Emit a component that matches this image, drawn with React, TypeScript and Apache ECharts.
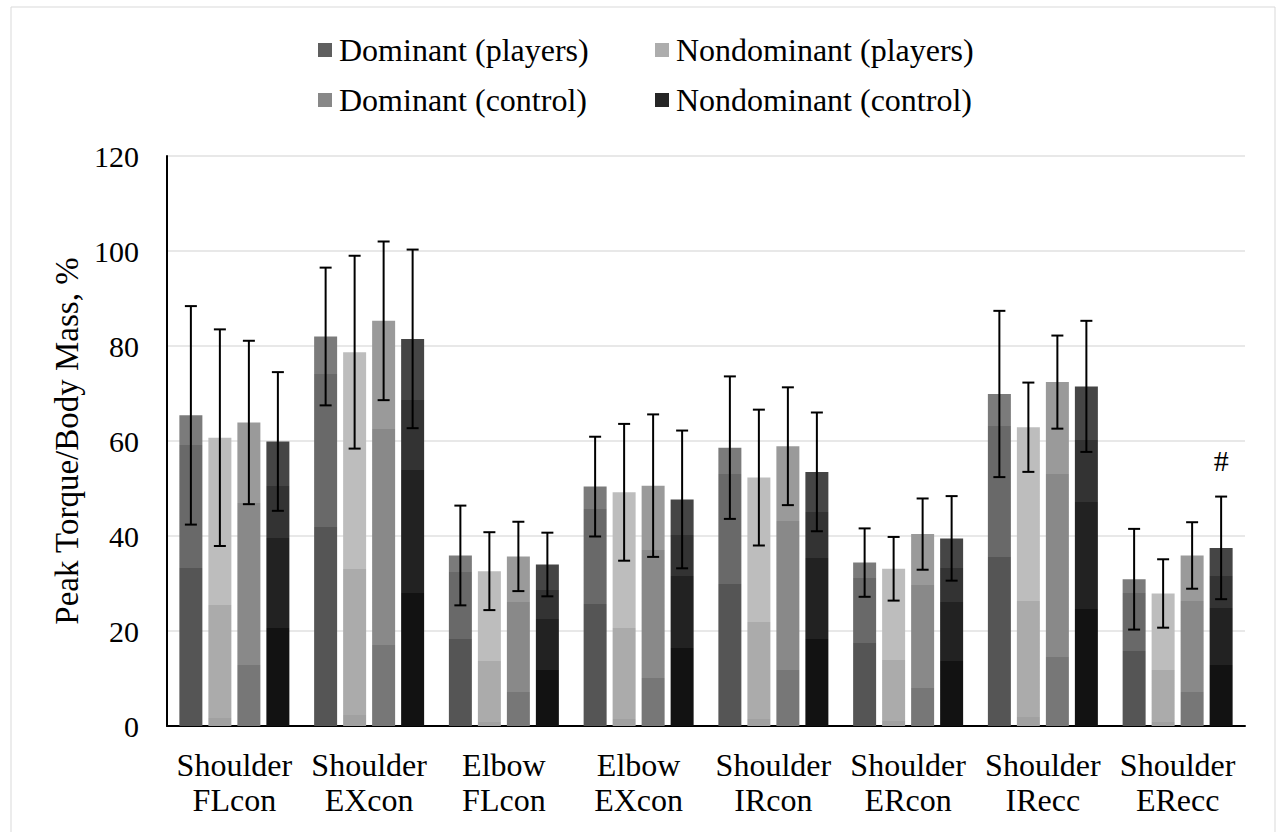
import React, { useEffect, useRef } from "react";
import * as echarts from "echarts";

const categories = [
  "Shoulder\nFLcon",
  "Shoulder\nEXcon",
  "Elbow\nFLcon",
  "Elbow\nEXcon",
  "Shoulder\nIRcon",
  "Shoulder\nERcon",
  "Shoulder\nIRecc",
  "Shoulder\nERecc",
];

const seriesNames = [
  "Dominant (players)",
  "Nondominant (players)",
  "Dominant (control)",
  "Nondominant (control)",
];

const domPlayersMean = [65.4, 82.0, 35.9, 50.4, 58.6, 34.4, 69.9, 30.9];
const domPlayersErr = [23.0, 14.5, 10.5, 10.5, 15.0, 7.2, 17.5, 10.6];
const nondomPlayersMean = [60.7, 78.7, 32.6, 49.2, 52.3, 33.1, 62.9, 27.9];
const nondomPlayersErr = [22.8, 20.3, 8.2, 14.4, 14.3, 6.7, 9.4, 7.2];
const domControlMean = [63.9, 85.3, 35.7, 50.6, 58.9, 40.4, 72.4, 35.9];
const domControlErr = [17.2, 16.7, 7.3, 15.0, 12.4, 7.5, 9.8, 7.0];
const nondomControlMean = [59.9, 81.5, 34.0, 47.7, 53.5, 39.5, 71.5, 37.5];
const nondomControlErr = [14.6, 18.8, 6.7, 14.5, 12.5, 8.9, 13.8, 10.8];
const nondomControlSig = ["", "", "", "", "", "", "", "#"];

const yTicks = { min: 0, max: 120, interval: 20 };

// style: banded fills (upper fraction of bar height from bottom, colour)
const bandStyles: [number, string][][] = [
  [[0.51, "#555555"], [0.905, "#696969"], [1, "#7b7b7b"]],
  [[0.029, "#a1a1a1"], [0.419, "#ababab"], [1, "#bdbdbd"]],
  [[0.2, "#777777"], [0.734, "#898989"], [1, "#9a9a9a"]],
  [[0.344, "#121212"], [0.661, "#222222"], [0.843, "#333333"], [1, "#454545"]],
];
const legendColors = ["#5f5f5f", "#adadad", "#888888", "#262626"];

const BAR_W = 23;
const BAR_GAP = 6;
const FONT = "Liberation Serif";

function bandGradient(bands: [number, string][]) {
  const stops: { offset: number; color: string }[] = [];
  for (let i = bands.length - 1; i >= 0; i--) {
    const upper = bands[i][0];
    const lower = i > 0 ? bands[i - 1][0] : 0;
    stops.push({ offset: 1 - upper, color: bands[i][1] });
    stops.push({ offset: 1 - lower, color: bands[i][1] });
  }
  return new echarts.graphic.LinearGradient(0, 0, 0, 1, stops);
}

export default function App() {
  const ref = useRef<HTMLDivElement>(null);

  useEffect(() => {
    if (!ref.current) return;
    const chart = echarts.init(ref.current, null, { renderer: "svg" });
    const means = [domPlayersMean, nondomPlayersMean, domControlMean, nondomControlMean];
    const errs = [domPlayersErr, nondomPlayersErr, domControlErr, nondomControlErr];
    const sigs = [null, null, null, nondomControlSig];

    const barSeries = seriesNames.map((name, k) => ({
      name,
      type: "bar",
      data: means[k],
      barWidth: BAR_W,
      barGap: `${(BAR_GAP / BAR_W) * 100}%`,
      itemStyle: { color: bandGradient(bandStyles[k]) },
      z: 2,
    }));

    const errSeries = seriesNames.map((name, k) => ({
      name: name + " err",
      type: "custom",
      z: 5,
      silent: true,
      data: means[k].map((m, i) => [i, m, errs[k][i]]),
      renderItem: (params: any, api: any) => {
        const ci = api.value(0);
        const m = api.value(1);
        const e = api.value(2);
        const center = api.coord([ci, m]);
        const x = center[0] + (k - 1.5) * (BAR_W + BAR_GAP);
        const yTop = api.coord([ci, m + e])[1];
        const yBot = api.coord([ci, m - e])[1];
        const capHalf = 6;
        const st = { stroke: "#000", lineWidth: 2 };
        const children: any[] = [
          { type: "line", shape: { x1: x, y1: yTop, x2: x, y2: yBot }, style: st },
          { type: "line", shape: { x1: x - capHalf, y1: yTop, x2: x + capHalf, y2: yTop }, style: st },
          { type: "line", shape: { x1: x - capHalf, y1: yBot, x2: x + capHalf, y2: yBot }, style: st },
        ];
        const sig = sigs[k];
        if (sig && sig[params.dataIndex]) {
          children.push({
            type: "text",
            style: {
              text: sig[params.dataIndex],
              x,
              y: yTop - 36,
              align: "center",
              verticalAlign: "middle",
              fontFamily: FONT,
              fontSize: 30,
              fill: "#000",
            },
          });
        }
        return { type: "group", children };
      },
    }));

    const legendPos = [
      { left: 318, top: 34 },
      { left: 655, top: 34 },
      { left: 318, top: 84 },
      { left: 655, top: 84 },
    ];

    const option: any = {
      animation: false,
      backgroundColor: "#ffffff",
      textStyle: { fontFamily: FONT },
      graphic: [
        {
          type: "rect",
          shape: { x: 11, y: 7, width: 1264, height: 830 },
          style: { fill: "none", stroke: "#d9d9d9", lineWidth: 1 },
          silent: true,
        },
      ],
      legend: seriesNames.map((name, k) => ({
        ...legendPos[k],
        padding: 0,
        orient: "horizontal",
        icon: "rect",
        itemWidth: 14,
        itemHeight: 14,
        selectedMode: false,
        textStyle: { fontFamily: FONT, fontSize: 32, color: "#000", padding: [0, 0, 0, 2] },
        data: [{ name, itemStyle: { color: legendColors[k] } }],
      })),
      grid: { left: 167, right: 38, top: 156, bottom: 106, containLabel: false },
      xAxis: {
        type: "category",
        data: categories,
        axisLine: { show: true, lineStyle: { color: "#000", width: 2 } },
        axisTick: { show: false },
        axisLabel: {
          fontFamily: FONT,
          fontSize: 32,
          lineHeight: 35,
          color: "#000",
          margin: 21,
          interval: 0,
        },
      },
      yAxis: {
        type: "value",
        min: yTicks.min,
        max: yTicks.max,
        interval: yTicks.interval,
        name: "Peak Torque/Body Mass, %",
        nameLocation: "middle",
        nameGap: 80,
        nameTextStyle: { fontFamily: FONT, fontSize: 33, color: "#000" },
        axisLine: { show: true, lineStyle: { color: "#000", width: 2 } },
        axisTick: { show: false },
        axisLabel: { fontFamily: FONT, fontSize: 30, color: "#000", margin: 28 },
        splitLine: { show: true, lineStyle: { color: "#e8e8e8", width: 2 } },
      },
      series: [...barSeries, ...errSeries],
    };
    chart.setOption(option);
    return () => chart.dispose();
  }, []);

  return (
    <div
      ref={ref}
      style={{ position: "absolute", left: 0, top: 0, width: 1283, height: 832 }}
    />
  );
}
